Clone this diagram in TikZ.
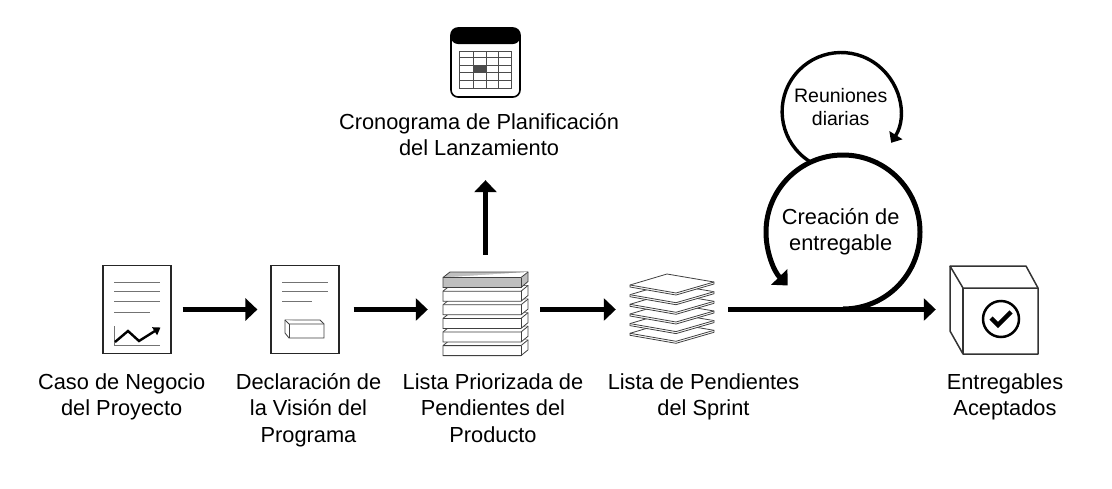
\documentclass[tikz,border=0pt]{standalone}
\usepackage{fontspec}
\setmainfont{Liberation Sans}
\usetikzlibrary{arrows.meta,positioning}
\tikzset{
	flow/.style={line width=5pt,-{Triangle[length=12pt,width=22pt]}},
	page/.style={shape=rectangle,draw=black!85,line width=1.2pt,minimum width=68pt,minimum height=88pt,inner sep=0pt},
	holder/.style={shape=rectangle,inner sep=0pt,minimum width=85pt,minimum height=84pt},
	caption/.style={align=center,font=\fontsize{21.8}{26.5}\selectfont,inner sep=0pt},
	rule/.style={draw=black!55,line width=1pt},
	thin line/.style={draw=black!75,line width=0.8pt,fill=white},
}
\begin{document}
\begin{tikzpicture}[x=1pt,y=-1pt]
	\useasboundingbox (0,0) rectangle (1112,488);

	\node[page] (caso) at (137,309.5) {};
	\node[page] (vision) at (305,309.5) {};
	\node[holder] (priorizada) at (485.5,309.5) {};
	\node[holder] (sprint) at (672,309.5) {};
	\node[holder,minimum width=88pt] (aceptados) at (994,309.5) {};

	\node[caption,anchor=north] (casotxt) at (121.7,373) {Caso de Negocio\\del Proyecto};
	\node[caption,anchor=north] (visiontxt) at (308.5,373) {Declaración de\\la Visión del\\Programa};
	\node[caption,anchor=north] (priorizadatxt) at (493,373) {Lista Priorizada de\\Pendientes del\\Producto};
	\node[caption,anchor=north] (sprinttxt) at (703.5,373) {Lista de Pendientes\\del Sprint};
	\node[caption,anchor=north] (aceptadostxt) at (1005,373) {Entregables\\Aceptados};
	\node[caption,anchor=north] (crono) at (479,113) {Cronograma de Planificación\\del Lanzamiento};
	\node[caption] (creacion) at (840.7,231.5) {Creación de\\entregable};
	\node[caption,font=\fontsize{19.5}{23}\selectfont] (reuniones) at (840.7,107.5) {Reuniones\\diarias};

	% caso de negocio
	\foreach \y in {282,291,301} \draw[rule] (114,\y) -- (160,\y);
	\draw[rule] (114,312) -- (150,312);
	\draw[rule,line width=0.7pt] (114,326) -- (114,345) -- (160,345);
	\draw[line width=2.4pt,-{Triangle[length=7pt,width=9pt]}] (115,342) -- (128,331) -- (139,341) -- (160.5,327.5);

	% vision
	\foreach \y in {282,291} \draw[rule] (282,\y) -- (328,\y);
	\draw[rule] (282,301) -- (312,301);
	\draw[thin line] (285,320) -- (320,320) -- (324,324) -- (324,338) -- (289,338) -- (285,333) -- cycle;
	\draw[thin line] (285,320) -- (289,324) -- (324,324);
	\draw[thin line] (289,324) -- (289,338);

	% lista priorizada
	\foreach \y in {345.6,332,318.4,304.8,291.2} {
		\draw[thin line] (443,\y) -- (450,\y-5.7) -- (528,\y-5.7) -- (528,\y+4.3) -- (521,\y+10) -- (443,\y+10) -- cycle;
		\draw[thin line] (443,\y) -- (521,\y) -- (528,\y-5.7);
		\draw[thin line] (521,\y) -- (521,\y+10);
	}
	\draw[thin line,fill=black!25] (443,277.5) -- (450,272) -- (528,272) -- (528,281.5) -- (521,287.5) -- (443,287.5) -- cycle;
	\draw[thin line] (443,277.5) -- (521,277.5) -- (528,272);
	\draw[thin line] (521,277.5) -- (521,287.5);

	% sprint
	\foreach \y in {48.3,38.6,29,19.3,9.7,0} {
		\draw[thin line] (630,285+\y) -- (667,274+\y) -- (714,282+\y) -- (714,284+\y) -- (676,295+\y) -- (630,287+\y) -- cycle;
		\draw[thin line] (630,285+\y) -- (676,293+\y) -- (714,282+\y);
	}

	% cronograma
	\draw[black,line width=1.6pt,rounded corners=7pt] (451,28) rectangle (520,97);
	\fill[black,rounded corners=7pt] (451,44) -- (451,28) -- (520,28) -- (520,44) -- cycle;
	\fill[black!70] (473,65) rectangle (486,72);
	\draw[black!70,line width=0.8pt] (459,51) rectangle (511,88);
	\foreach \x in {473,486,498} \draw[black!70,line width=0.8pt] (\x,51) -- (\x,88);
	\foreach \y in {57,65,72,80} \draw[black!70,line width=0.8pt] (459,\y) -- (511,\y);

	% caja aceptada
	\draw[black!80,line width=1.5pt,line join=round] (950,266) -- (1026,266) -- (1038,288) -- (1038,354) -- (963,354) -- (950,331) -- cycle;
	\draw[black!80,line width=1.5pt,line join=round] (950,266) -- (963,288) -- (1038,288);
	\draw[black!80,line width=1.5pt] (963,288) -- (963,354);
	\draw[black,line width=2.5pt] (1001,319) circle (18pt);
	\draw[black,line width=4.5pt] (991,318) -- (998,325) -- (1011,312);

	% flechas
	\draw[flow,shorten <=11pt,shorten >=13pt] (caso) -- (vision);
	\draw[flow,shorten <=14pt,shorten >=15pt] (vision) -- (priorizada);
	\draw[flow,shorten <=12pt,shorten >=13.5pt] (priorizada) -- (sprint);
	\draw[flow,shorten <=12.5pt,shorten >=24pt] (priorizada.north) -- (priorizada.north |- crono.south);
	\coordinate (inicio) at (728,309.5);
	\draw[flow,shorten >=14pt] (inicio) -- (aceptados);

	% ciclos
	\coordinate (base) at (843,309);
	\draw[line width=5pt,-{Triangle[length=12pt,width=22pt]}] (base) arc[start angle=-90,end angle=224,radius=77pt];
	\coordinate (cruce) at (809,161);
	\draw[line width=3.4pt,-{Triangle[length=9pt,width=15pt]}] (cruce) arc[start angle=237,end angle=-32,radius=59pt];
\end{tikzpicture}
\end{document}
